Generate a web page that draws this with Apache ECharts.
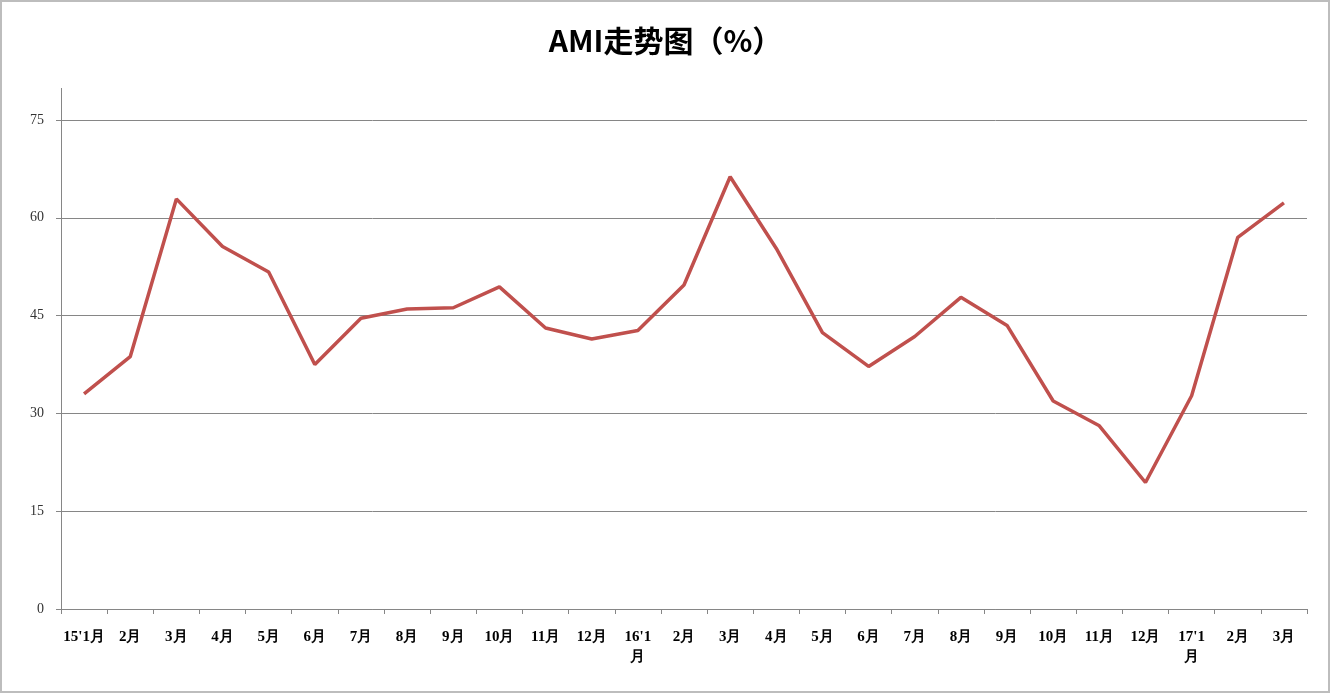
<!DOCTYPE html>
<html>
<head>
<meta charset="utf-8">
<script src="https://cdn.jsdelivr.net/npm/echarts@6/dist/echarts.min.js"></script>
<style>
  html, body { margin: 0; padding: 0; background: #fff; }
  #chart { width: 1331px; height: 694px; }
</style>
</head>
<body>
<div id="chart"></div>
<script>
var chartDom = document.getElementById('chart');
var myChart = echarts.init(chartDom);

var months = [
  "15'1月", '2月', '3月', '4月', '5月', '6月', '7月', '8月', '9月', '10月', '11月', '12月',
  "16'1\n月", '2月', '3月', '4月', '5月', '6月', '7月', '8月', '9月', '10月', '11月', '12月',
  "17'1\n月", '2月', '3月'
];
var ami = [
  33.0, 38.7, 62.9, 55.6, 51.7, 37.5, 44.6, 46.0, 46.2, 49.4, 43.1, 41.4,
  42.7, 49.7, 66.3, 55.3, 42.4, 37.2, 41.8, 47.8, 43.5, 31.9, 28.1, 19.4,
  32.7, 57.0, 62.3
];
var yTicks = [0, 15, 30, 45, 60, 75];

var axisGray = '#868686';

var option = {
  backgroundColor: '#fff',
  animation: false,
  title: {
    text: 'AMI走势图（%）',
    left: 'center',
    top: 21,
    textStyle: {
      fontFamily: 'Noto Sans CJK SC',
      fontWeight: 'bold',
      fontSize: 30,
      color: '#000'
    }
  },
  grid: { left: 61, right: 24, top: 120, bottom: 85 },
  xAxis: {
    type: 'category',
    data: months,
    boundaryGap: true,
    axisLine: { lineStyle: { color: axisGray, width: 1 } },
    axisTick: { show: true, length: 5, lineStyle: { color: axisGray } },
    axisLabel: {
      margin: 18,
      interval: 0,
      color: '#000',
      fontFamily: 'Liberation Serif',
      fontWeight: 'bold',
      fontSize: 15,
      lineHeight: 20
    }
  },
  yAxis: {
    type: 'value',
    min: yTicks[0],
    max: yTicks[yTicks.length - 1],
    interval: 15,
    axisLine: { show: true, lineStyle: { color: axisGray, width: 1 } },
    axisTick: { show: true, length: 5, lineStyle: { color: axisGray } },
    axisLabel: {
      margin: 17,
      color: '#333',
      fontFamily: 'Liberation Serif',
      fontSize: 14
    },
    splitLine: { show: true, lineStyle: { color: axisGray, width: 1 } }
  },
  series: [
    {
      type: 'line',
      data: ami,
      symbol: 'none',
      lineStyle: { color: '#c0504d', width: 3.5 },
      itemStyle: { color: '#c0504d' }
    }
  ],
  graphic: [
    // axis line runs a bit above the top tick, like the original
    { type: 'line', shape: { x1: 61.5, y1: 88, x2: 61.5, y2: 120 }, style: { stroke: axisGray, lineWidth: 1 } },
    // outer frame
    { type: 'rect', shape: { x: 1, y: 1, width: 1328, height: 691 }, style: { fill: null, stroke: '#bdbdbd', lineWidth: 2 } }
  ]
};

myChart.setOption(option);
window.addEventListener('resize', () => myChart.resize());
</script>
</body>
</html>
